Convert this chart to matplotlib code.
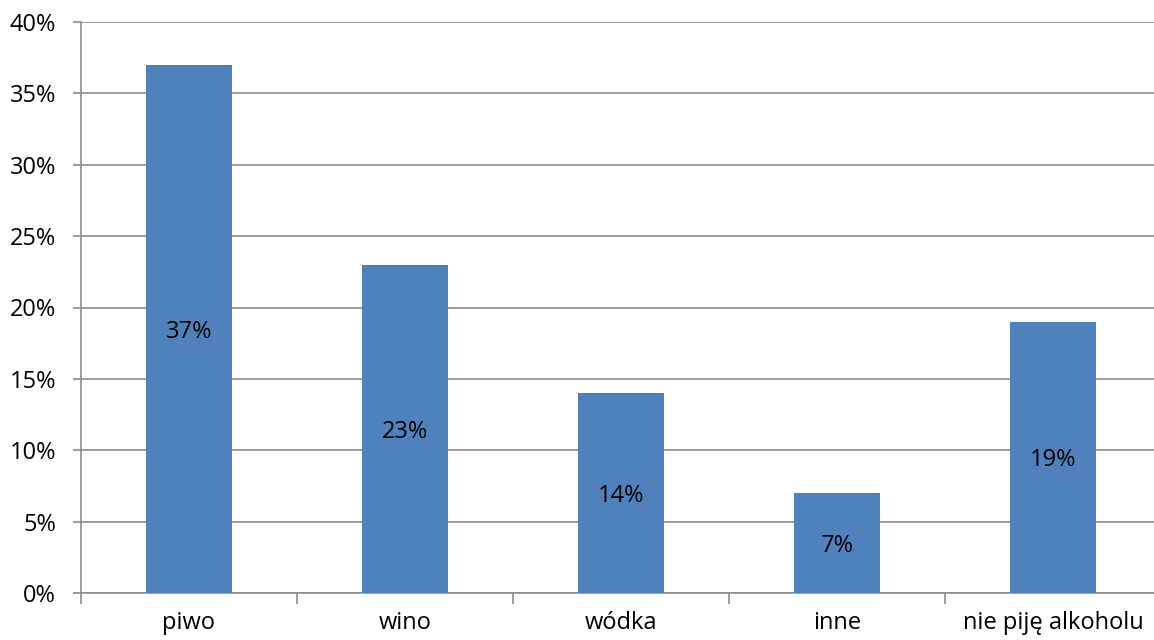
import numpy as np
import matplotlib.pyplot as plt
from matplotlib.ticker import PercentFormatter

# data
categories = ["piwo", "wino", "wódka", "inne", "nie piję alkoholu"]
shares = [37, 23, 14, 7, 19]
bar_labels = ["37%", "23%", "14%", "7%", "19%"]

plt.rcParams['font.family'] = ['Open Sans', 'DejaVu Sans']

fig = plt.figure(figsize=(11.54, 6.4), dpi=100)
# axes right edge runs a bit past the picture, like the original
ax = fig.add_axes([81 / 1154, 1 - 593 / 640, 1080 / 1154, 571 / 640])

x = np.arange(len(categories))
bars = ax.bar(x, shares, width=0.4, color='#4F81BD', zorder=3)

# labels in the middle of each bar
for b, lab in zip(bars, bar_labels):
    ax.text(b.get_x() + b.get_width() / 2, b.get_height() / 2, lab,
            ha='center', va='center_baseline', fontsize=17, color='black', zorder=4)

ax.set_xlim(-0.5, len(categories) - 0.5)
ax.set_ylim(0, 40)
ax.set_yticks(np.arange(0, 41, 5))
ax.yaxis.set_major_formatter(PercentFormatter(decimals=0))
ax.yaxis.grid(True, color='#8c8c8c', linewidth=1.2, zorder=0)

# category labels centered, tick marks on the boundaries
ax.set_xticks(x)
ax.set_xticklabels(categories)
ax.set_xticks(np.arange(-0.5, len(categories), 1), minor=True)
ax.tick_params(axis='x', which='major', length=0, pad=13, labelsize=17)
ax.tick_params(axis='x', which='minor', length=8, width=1.2, color='#8c8c8c', direction='out')
ax.tick_params(axis='y', length=6, width=1.2, color='#8c8c8c', pad=12, labelsize=17)

for side in ['top', 'right']:
    ax.spines[side].set_visible(False)
for side in ['left', 'bottom']:
    ax.spines[side].set_color('#8c8c8c')
    ax.spines[side].set_linewidth(1.2)

plt.savefig("out.png", dpi=100)
